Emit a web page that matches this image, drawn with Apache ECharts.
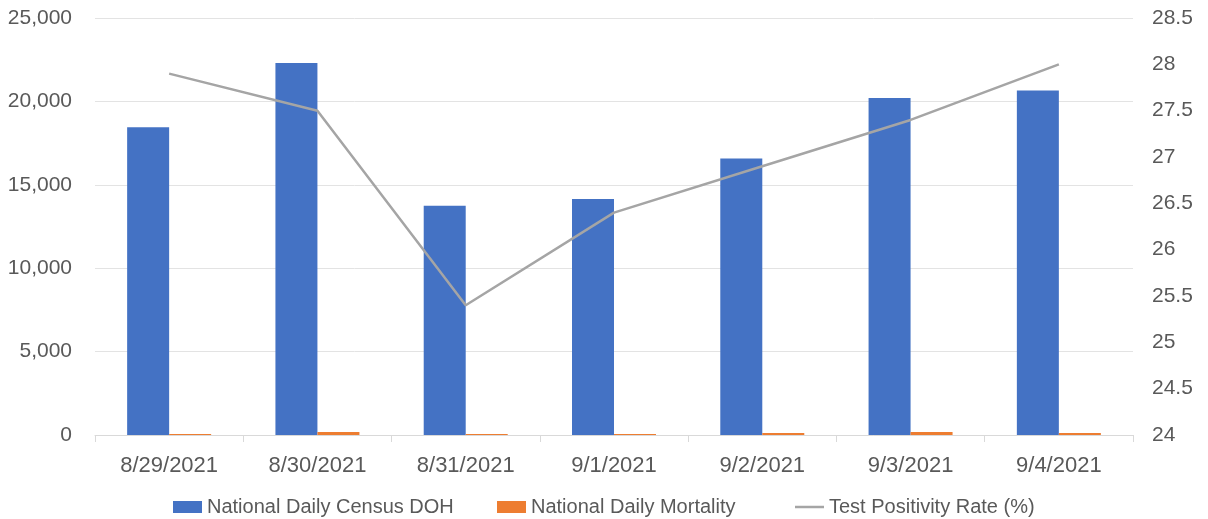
<!DOCTYPE html>
<html>
<head>
<meta charset="utf-8">
<script src="https://cdn.jsdelivr.net/npm/echarts@6/dist/echarts.min.js"></script>
<style>html,body{margin:0;padding:0;background:#fff}#c{width:1208px;height:519px}</style>
</head>
<body>
<div id="c"></div>
<script>
const categories = ['8/29/2021','8/30/2021','8/31/2021','9/1/2021','9/2/2021','9/3/2021','9/4/2021'];
const censusDOH = [18450, 22300, 13750, 14150, 16570, 20200, 20650];
const mortality = [60, 180, 60, 60, 120, 180, 120];
const positivity = [27.9, 27.5, 25.4, 26.4, 26.9, 27.4, 28.0];
const leftTicks = {min: 0, max: 25000, interval: 5000};
const rightTicks = {min: 24, max: 28.5, interval: 0.5};
const seriesNames = ['National Daily Census DOH', 'National Daily Mortality', 'Test Positivity Rate (%)'];

const font = 'Liberation Sans, Arial, sans-serif';
const legendLefts = [173, 497, 795];
const legendIconHeights = [12, 12, 2.5];
const legends = seriesNames.map((n, i) => ({
  left: legendLefts[i], top: 497, padding: 0, itemWidth: 29, itemHeight: legendIconHeights[i],
  textStyle: {color: '#595959', fontSize: 20, fontFamily: font},
  data: [{name: n, icon: 'rect'}]
}));

const chart = echarts.init(document.getElementById('c'));
chart.setOption({
  animation: false,
  backgroundColor: '#fff',
  textStyle: {fontFamily: font},
  grid: {left: 95, right: 75, top: 18, bottom: 84},
  legend: legends,
  xAxis: {
    type: 'category', data: categories,
    axisLine: {lineStyle: {color: '#d9d9d9'}},
    axisTick: {show: true, alignWithLabel: false, length: 7, lineStyle: {color: '#d9d9d9'}},
    axisLabel: {color: '#595959', fontSize: 22, margin: 20}
  },
  yAxis: [
    {
      type: 'value', min: leftTicks.min, max: leftTicks.max, interval: leftTicks.interval,
      axisLine: {show: false}, axisTick: {show: false},
      splitLine: {lineStyle: {color: '#e3e3e3'}},
      axisLabel: {color: '#595959', fontSize: 21, margin: 23,
        formatter: v => v.toLocaleString('en-US')}
    },
    {
      type: 'value', min: rightTicks.min, max: rightTicks.max, interval: rightTicks.interval,
      axisLine: {show: false}, axisTick: {show: false}, splitLine: {show: false},
      axisLabel: {color: '#595959', fontSize: 21, margin: 19}
    }
  ],
  series: [
    {name: seriesNames[0], type: 'bar', data: censusDOH, barWidth: 42, barGap: '0%',
     itemStyle: {color: '#4472C4'}},
    {name: seriesNames[1], type: 'bar', data: mortality, barWidth: 42, barGap: '0%',
     itemStyle: {color: '#ED7D31'}},
    {name: seriesNames[2], type: 'line', yAxisIndex: 1, data: positivity,
     symbol: 'none', showSymbol: false, lineStyle: {color: '#A5A5A5', width: 2.5}, itemStyle: {color: '#A5A5A5'}}
  ]
});
</script>
</body>
</html>
